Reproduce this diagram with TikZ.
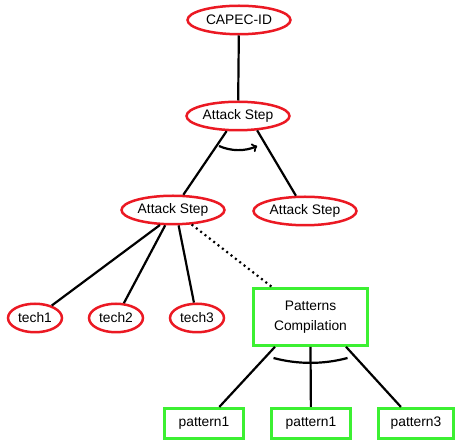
\documentclass[tikz,border=0pt]{standalone}
\usepackage{fontspec}
\setmainfont{Liberation Sans}
\usepackage{tikz}
\usetikzlibrary{arrows,shapes.geometric}
\definecolor{stepred}{RGB}{235,25,35}
\definecolor{patgreen}{RGB}{60,240,50}
\tikzstyle{stepnode} = [ellipse, draw=stepred, line width=2.5pt, inner sep=0pt, minimum width=103pt, minimum height=28.5pt, font=\fontsize{13.8}{20}\selectfont]
\tikzstyle{technode} = [stepnode, minimum width=54pt]
\tikzstyle{patnode} = [rectangle, draw=patgreen, line width=2.6pt, inner sep=0pt, minimum width=79.5pt, minimum height=30.5pt, align=center, font=\fontsize{13.8}{20}\selectfont]
\tikzstyle{ln} = [line width=2.2pt]

\begin{document}
\begin{tikzpicture}[yscale=-1]
			\useasboundingbox (0pt,0pt) rectangle (456pt,443pt);
			\node[stepnode] (capec) at (239pt,20pt) {CAPEC-ID};
			\node[stepnode] (as1) at (238pt,116pt) {Attack Step};
			\node[stepnode] (as2) at (173pt,210pt) {Attack Step};
			\node[stepnode] (as3) at (305pt,211pt) {Attack Step};
			\node[technode] (t1) at (35pt,318pt) {tech1};
			\node[technode] (t2) at (116pt,318pt) {tech2};
			\node[technode] (t3) at (197pt,318pt) {tech3};
			\node[patnode, minimum width=114.5pt, minimum height=57pt] (pc) at (310.5pt,317pt) {Patterns\\Compilation};
			\node[patnode] (p1) at (204pt,423.5pt) {pattern1};
			\node[patnode] (p2) at (311pt,423.5pt) {pattern1};
			\node[patnode, minimum width=75.5pt] (p3) at (416pt,423.5pt) {pattern3};
			\draw[ln] (capec) -- (as1);
			\draw[ln] (as1.233) -- (as2);
			\draw[ln] (as1.323) -- (as3);
			\draw[ln,->] (as1.center) ++(-19pt,30pt) arc[start angle=114, end angle=66, radius=47pt];
			\draw[ln] (as2.229) -- (t1);
			\draw[ln] (as2.243) -- (t2);
			\draw[ln] (as2.290) -- (t3);
			\draw[ln, dash pattern=on 2pt off 3.5pt] (as2) -- (pc);
			\draw[ln] (pc.220) -- (p1);
			\draw[ln] (pc.south) -- (p2);
			\draw[ln] (pc.320) -- (p3);
			\draw[ln] (pc.center) ++(-37pt,41pt) arc[start angle=105, end angle=75, radius=143pt];
		\end{tikzpicture}
\end{document}
